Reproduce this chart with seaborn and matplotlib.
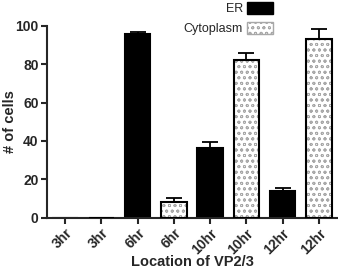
import pandas as pd
import numpy as np
import matplotlib
matplotlib.use('Agg')
import matplotlib.pyplot as plt
from matplotlib.patches import Patch
import seaborn as sns

# values
times = ['3hr', '3hr', '6hr', '6hr', '10hr', '10hr', '12hr', '12hr']
locations = ['ER', 'Cytoplasm', 'ER', 'Cytoplasm', 'ER', 'Cytoplasm', 'ER', 'Cytoplasm']
counts = [0, 0, 96, 8, 36.5, 82, 14, 93]
errors = [0, 0, 0.8, 2.1, 3.2, 3.9, 1.5, 5.6]

df = pd.DataFrame({
    'slot': [f'{t}_{i}' for i, t in enumerate(times)],
    'location': locations,
    'count': counts,
})

sns.set_style('ticks')
plt.rcParams['font.family'] = ['Liberation Sans', 'DejaVu Sans']
plt.rcParams['hatch.linewidth'] = 0.6

fig = plt.figure(figsize=(3.38, 2.70), dpi=100)
ax = fig.add_axes([0.139, 0.194, 0.858, 0.71])

bar_w = 0.7
hatch_col = '#a8a8a8'
sns.barplot(data=df, x='slot', y='count', hue='location', dodge=False, width=bar_w,
            palette={'ER': 'black', 'Cytoplasm': 'white'}, edgecolor='black',
            linewidth=1.5, legend=False, ax=ax)

# dotted fill for the cytoplasm bars (matched by bar position), then a black outline on top
for patch in ax.patches:
    i = int(round(patch.get_x() + patch.get_width() / 2))
    if 0 <= i < len(locations) and locations[i] == 'Cytoplasm':
        patch.set_facecolor('white')
        patch.set_edgecolor(hatch_col)
        patch.set_hatch('ooo')
        patch.set_linewidth(0.6)
xpos = np.arange(len(times))
cyto = np.array(locations) == 'Cytoplasm'
ax.bar(xpos[cyto], np.array(counts)[cyto], width=bar_w, fill=False,
       edgecolor='black', linewidth=1.5, zorder=3)

# upper error bars
mask = np.array(counts) > 0
err = np.array(errors)[mask]
ax.errorbar(xpos[mask], np.array(counts)[mask], yerr=[np.zeros_like(err), err],
            fmt='none', ecolor='black', elinewidth=1.3, capsize=6, capthick=1.3, zorder=4)

ax.set_xlim(-0.5, len(times) - 0.5)
ax.set_ylim(0, 100)
ax.set_yticks([0, 20, 40, 60, 80, 100])
ax.set_xticks(xpos)
ax.set_xticklabels(times, rotation=45, ha='right', rotation_mode='anchor',
                   fontsize=10, fontweight='bold')
for lab in ax.get_yticklabels():
    lab.set_fontsize(10)
    lab.set_fontweight('bold')
ax.tick_params(axis='both', length=4, width=1.5, pad=2)
for s in ['left', 'bottom']:
    ax.spines[s].set_linewidth(1.5)
sns.despine(ax=ax)

ax.set_xlabel('Location of VP2/3', fontsize=10.5, fontweight='bold')
ax.set_ylabel('# of cells', fontsize=10.5, fontweight='bold')
ax.xaxis.set_label_coords(0.5, -0.195)
ax.yaxis.set_label_coords(-0.105, 0.5)

handles = [Patch(facecolor='black', edgecolor='black', label='ER'),
           Patch(facecolor='white', edgecolor=hatch_col, hatch='ooo', label='Cytoplasm')]
fig.legend(handles=handles, loc='upper right', bbox_to_anchor=(273 / 338, 1 - 2 / 270),
           frameon=False, markerfirst=False, fontsize=9, handlelength=2.1,
           handleheight=1.1, handletextpad=0.3, labelspacing=0.5, borderpad=0,
           borderaxespad=0)

fig.savefig('out.png', dpi=100)
